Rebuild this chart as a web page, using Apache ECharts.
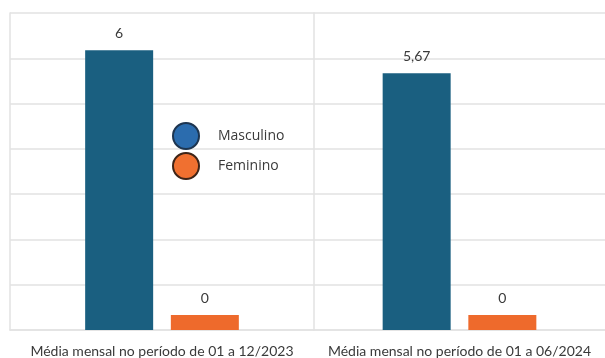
<!DOCTYPE html>
<html>
<head>
<meta charset="utf-8">
<script src="https://cdn.jsdelivr.net/npm/echarts@6/dist/echarts.min.js"></script>
<style>
  html, body { margin: 0; padding: 0; background: #ffffff; }
  #chart { width: 605px; height: 358px; }
</style>
</head>
<body>
<div id="chart"></div>
<script>
// Two periods, each shown in its own panel
const periods = ['Média mensal no período de 01 a 12/2023', 'Média mensal no período de 01 a 06/2024'];
const masculino = [6, 5.67];
const feminino = [0, 0];
const seriesNames = ['Masculino', 'Feminino'];
const panelMax = [6.8, 7];

const blue = '#1a5f80';
const orange = '#ee6a2c';
const gridColor = '#e2e2e2';
const textColor = '#3a3a3a';
const font = 'Lato';

const fmt = p => String(p.value).replace('.', ',');

const grids = [
  { left: 10, top: 13, width: 304, height: 318 },
  { left: 314, top: 13, width: 301, height: 318 }
];

const xAxes = periods.map((p, i) => ({
  type: 'category',
  gridIndex: i,
  data: [p],
  axisLine: { show: true, lineStyle: { color: gridColor, width: 1.5 } },
  axisTick: { show: false },
  axisLabel: { color: textColor, fontFamily: font, fontSize: 14, margin: 14 }
}));

const yAxes = panelMax.map((m, i) => ({
  type: 'value',
  gridIndex: i,
  min: 0,
  max: m,
  interval: m / 7,
  axisLabel: { show: false },
  axisTick: { show: false },
  axisLine: { show: true, lineStyle: { color: gridColor, width: 1.5 } },
  splitLine: { show: true, lineStyle: { color: gridColor, width: 1.5 } }
}));

const labelStyle = { show: true, position: 'top', distance: 10, color: textColor, fontFamily: font, fontSize: 14, formatter: fmt };

const series = [];
periods.forEach((p, i) => {
  series.push({
    name: seriesNames[0],
    type: 'bar',
    xAxisIndex: i,
    yAxisIndex: i,
    data: [masculino[i]],
    barWidth: 68,
    barGap: '26%',
    itemStyle: { color: blue },
    label: labelStyle
  });
  series.push({
    name: seriesNames[1],
    type: 'bar',
    xAxisIndex: i,
    yAxisIndex: i,
    data: [feminino[i]],
    barWidth: 68,
    barGap: '26%',
    barMinHeight: 15,
    itemStyle: { color: orange },
    label: labelStyle
  });
});

const chart = echarts.init(document.getElementById('chart'), null, { renderer: 'canvas' });
chart.setOption({
  animation: false,
  backgroundColor: '#ffffff',
  grid: grids,
  xAxis: xAxes,
  yAxis: yAxes,
  legend: {
    data: [
      { name: 'Masculino', itemStyle: { color: '#2b6cae', borderColor: '#1d3550', borderWidth: 2 } },
      { name: 'Feminino', itemStyle: { color: '#f07030', borderColor: '#3e2417', borderWidth: 2 } }
    ],
    orient: 'vertical',
    left: 167,
    top: 117,
    icon: 'circle',
    itemWidth: 26,
    itemHeight: 26,
    itemGap: 2,
    textStyle: { color: textColor, fontFamily: 'Open Sans', fontSize: 14, padding: [0, 0, 0, 14] }
  },
  series: series
});
</script>
</body>
</html>
